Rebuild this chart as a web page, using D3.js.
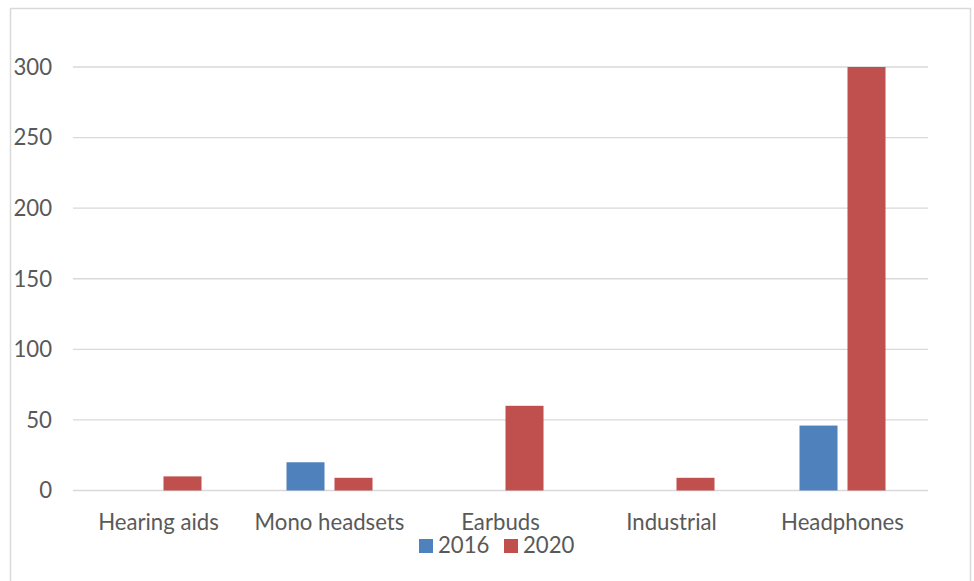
<!DOCTYPE html>
<html>
<head>
<meta charset="utf-8">
<script src="https://cdn.jsdelivr.net/npm/d3@7"></script>
<style>
  body { margin: 0; background: #fff; }
  svg text { font-family: Lato, "Liberation Sans", sans-serif; fill: #595959; }
</style>
</head>
<body>
<svg id="chart" width="974" height="581"></svg>
<script>
const categories = ["Hearing aids", "Mono headsets", "Earbuds", "Industrial", "Headphones"];
const seriesNames = ["2016", "2020"];
const values2016 = [0, 20, 0, 0, 46];
const values2020 = [10, 9, 60, 9, 300];
const yTicks = [0, 50, 100, 150, 200, 250, 300];
const colors = ["#4f81bd", "#c0504d"];

const svg = d3.select("#chart");

// chart frame (bottom edge runs off the page)
svg.append("rect")
  .attr("x", 10.5).attr("y", 8.5)
  .attr("width", 960).attr("height", 620)
  .attr("fill", "none")
  .attr("stroke", "#d9d9d9")
  .attr("stroke-width", 1.5);

const plot = { left: 73, right: 928, top: 67, bottom: 490.5 };

const x0 = d3.scaleBand()
  .domain(categories)
  .range([plot.left, plot.right])
  .paddingInner(0.497)
  .paddingOuter(0.2485);

const x1 = d3.scaleBand()
  .domain(seriesNames)
  .range([0, x0.bandwidth()])
  .paddingInner(0.208);

const y = d3.scaleLinear()
  .domain([0, 300])
  .range([plot.bottom, plot.top]);

// gridlines
svg.append("g")
  .selectAll("line")
  .data(yTicks)
  .join("line")
  .attr("x1", plot.left)
  .attr("x2", plot.right)
  .attr("y1", (d) => y(d))
  .attr("y2", (d) => y(d))
  .attr("stroke", "#d9d9d9")
  .attr("stroke-width", 1.3);

// y labels
svg.append("g")
  .selectAll("text")
  .data(yTicks)
  .join("text")
  .attr("x", 52)
  .attr("y", (d) => y(d) + 7.8)
  .attr("text-anchor", "end")
  .style("font-size", "22.2px")
  .text((d) => d);

// bars
const rows = categories.map((c, i) => ({
  category: c,
  values: [values2016[i], values2020[i]]
}));

const group = svg.append("g")
  .selectAll("g")
  .data(rows)
  .join("g")
  .attr("transform", (d) => `translate(${x0(d.category)},0)`);

group.selectAll("rect")
  .data((d) => d.values.map((v, j) => ({ series: seriesNames[j], value: v, color: colors[j] })))
  .join("rect")
  .filter((d) => d.value > 0)
  .attr("x", (d) => x1(d.series))
  .attr("y", (d) => y(d.value))
  .attr("width", x1.bandwidth())
  .attr("height", (d) => y(0) - y(d.value))
  .attr("fill", (d) => d.color);

// category labels
svg.append("g")
  .selectAll("text")
  .data(categories)
  .join("text")
  .attr("x", (d) => x0(d) + x0.bandwidth() / 2)
  .attr("y", 529.5)
  .attr("text-anchor", "middle")
  .style("font-size", "22.2px")
  .text((d) => d);

// legend
const legendX = [419, 504];
const legend = svg.append("g")
  .selectAll("g")
  .data(seriesNames)
  .join("g")
  .attr("transform", (d, i) => `translate(${legendX[i]},539)`);

legend.append("rect")
  .attr("width", 14)
  .attr("height", 14)
  .attr("fill", (d, i) => colors[i]);

legend.append("text")
  .attr("x", 19)
  .attr("y", 14)
  .style("font-size", "22.2px")
  .text((d) => d);
</script>
</body>
</html>
